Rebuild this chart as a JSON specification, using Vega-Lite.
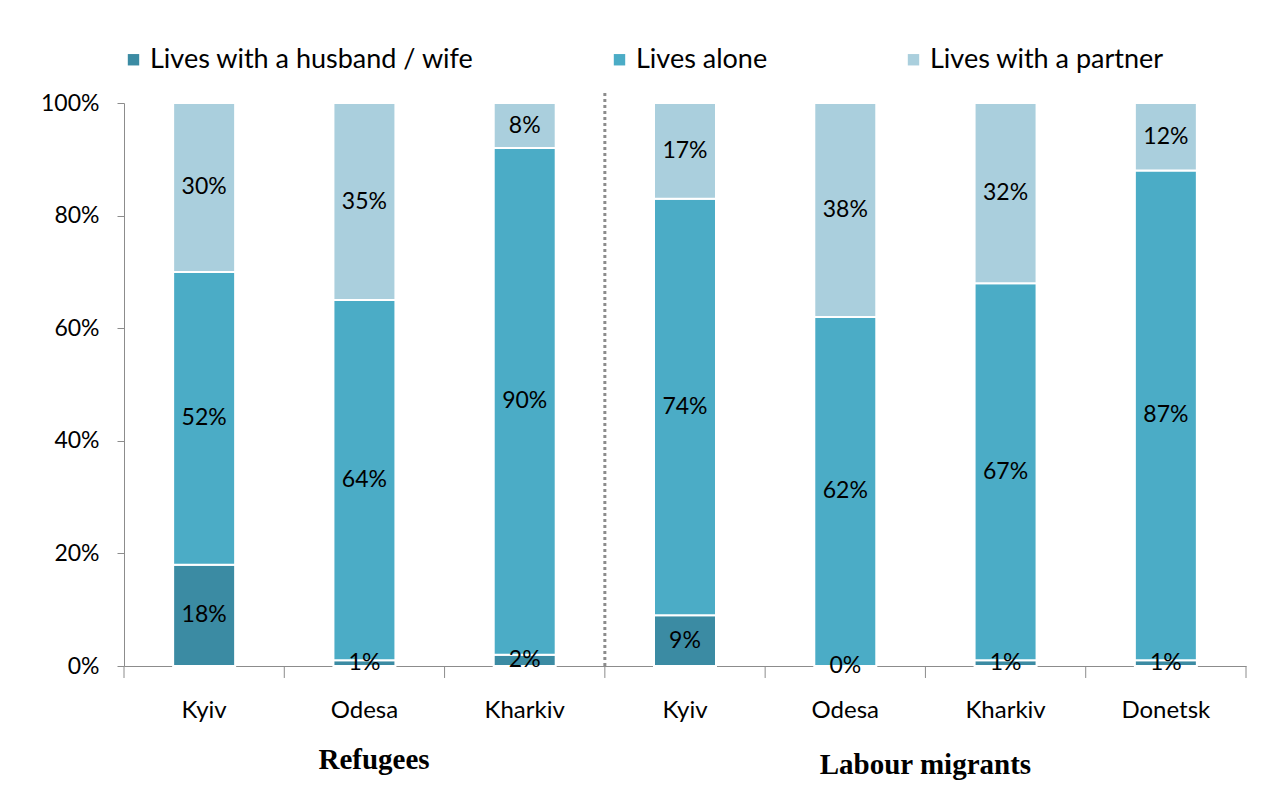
{
  "$schema": "https://vega.github.io/schema/vega-lite/v6.json",
  "width": 1122,
  "height": 563,
  "padding": {"left": 40, "top": 46, "right": 5, "bottom": 5},
  "config": {
    "view": {"stroke": null},
    "font": "Lato",
    "axis": {"labelFont": "Lato", "labelColor": "black", "domainColor": "#8c8c8c", "tickColor": "#8c8c8c", "grid": false, "title": null}
  },
  "data": {
    "values": [
      {"key": "R-Kyiv", "series": "Lives with a husband / wife", "ord": 1, "pct": 0.18},
      {"key": "R-Kyiv", "series": "Lives alone", "ord": 2, "pct": 0.52},
      {"key": "R-Kyiv", "series": "Lives with a partner", "ord": 3, "pct": 0.30},
      {"key": "R-Odesa", "series": "Lives with a husband / wife", "ord": 1, "pct": 0.01},
      {"key": "R-Odesa", "series": "Lives alone", "ord": 2, "pct": 0.64},
      {"key": "R-Odesa", "series": "Lives with a partner", "ord": 3, "pct": 0.35},
      {"key": "R-Kharkiv", "series": "Lives with a husband / wife", "ord": 1, "pct": 0.02},
      {"key": "R-Kharkiv", "series": "Lives alone", "ord": 2, "pct": 0.90},
      {"key": "R-Kharkiv", "series": "Lives with a partner", "ord": 3, "pct": 0.08},
      {"key": "L-Kyiv", "series": "Lives with a husband / wife", "ord": 1, "pct": 0.09},
      {"key": "L-Kyiv", "series": "Lives alone", "ord": 2, "pct": 0.74},
      {"key": "L-Kyiv", "series": "Lives with a partner", "ord": 3, "pct": 0.17},
      {"key": "L-Odesa", "series": "Lives with a husband / wife", "ord": 1, "pct": 0.0},
      {"key": "L-Odesa", "series": "Lives alone", "ord": 2, "pct": 0.62},
      {"key": "L-Odesa", "series": "Lives with a partner", "ord": 3, "pct": 0.38},
      {"key": "L-Kharkiv", "series": "Lives with a husband / wife", "ord": 1, "pct": 0.01},
      {"key": "L-Kharkiv", "series": "Lives alone", "ord": 2, "pct": 0.67},
      {"key": "L-Kharkiv", "series": "Lives with a partner", "ord": 3, "pct": 0.32},
      {"key": "L-Donetsk", "series": "Lives with a husband / wife", "ord": 1, "pct": 0.01},
      {"key": "L-Donetsk", "series": "Lives alone", "ord": 2, "pct": 0.87},
      {"key": "L-Donetsk", "series": "Lives with a partner", "ord": 3, "pct": 0.12}
    ]
  },
  "encoding": {
    "x": {
      "field": "key", "type": "nominal",
      "scale": {"domain": ["R-Kyiv", "R-Odesa", "R-Kharkiv", "L-Kyiv", "L-Odesa", "L-Kharkiv", "L-Donetsk"], "paddingInner": 0, "paddingOuter": 0},
      "axis": {"labelExpr": "slice(datum.value, 2)", "labelAngle": 0, "labelFontSize": 24, "ticks": false, "labelPadding": 32}
    }
  },
  "layer": [
    {
      "mark": {"type": "bar", "size": 62, "stroke": "white", "strokeWidth": 2},
      "encoding": {
        "y": {"field": "pct", "type": "quantitative", "stack": "zero",
          "scale": {"domain": [0, 1]},
          "axis": {"format": ".0%", "values": [0, 0.2, 0.4, 0.6, 0.8, 1], "labelFontSize": 23, "tickSize": 7, "labelPadding": 18}},
        "color": {"field": "series", "type": "nominal",
          "scale": {"domain": ["Lives with a husband / wife", "Lives alone", "Lives with a partner"], "range": ["#3B8BA3", "#4BACC6", "#AACFDD"]},
          "legend": {"orient": "none", "legendX": -4, "legendY": -57, "direction": "horizontal", "title": null, "symbolType": "square", "symbolSize": 130, "symbolStrokeWidth": 0, "labelFontSize": 27, "labelFont": "Lato", "labelColor": "black", "columnPadding": 132, "labelLimit": 600, "labelOffset": 3}},
        "order": {"field": "ord", "type": "quantitative"}
      }
    },
    {
      "mark": {"type": "text", "fontSize": 23, "color": "black", "baseline": "middle"},
      "encoding": {
        "y": {"field": "pct", "type": "quantitative", "stack": "zero", "bandPosition": 0.5},
        "text": {"field": "pct", "type": "quantitative", "format": ".0%"},
        "order": {"field": "ord", "type": "quantitative"}
      }
    },
    {
      "data": {"values": [{"key": "R-Kyiv"}, {"key": "R-Odesa"}, {"key": "R-Kharkiv"}, {"key": "L-Kyiv"}, {"key": "L-Odesa"}, {"key": "L-Kharkiv"}, {"key": "L-Donetsk"}]},
      "mark": {"type": "rule", "strokeWidth": 1, "color": "#8c8c8c"},
      "encoding": {
        "x": {"field": "key", "type": "nominal", "bandPosition": 0},
        "y": {"datum": 0},
        "y2": {"datum": -0.0213}
      }
    },
    {
      "data": {"values": [{"key": "L-Donetsk"}]},
      "mark": {"type": "rule", "strokeWidth": 1, "color": "#8c8c8c"},
      "encoding": {
        "x": {"field": "key", "type": "nominal", "bandPosition": 1},
        "y": {"datum": 0},
        "y2": {"datum": -0.0213}
      }
    },
    {
      "data": {"values": [{"key": "R-Kharkiv"}]},
      "mark": {"type": "rule", "strokeDash": [3, 3], "strokeWidth": 3, "color": "#8c8c8c"},
      "encoding": {
        "x": {"field": "key", "type": "nominal", "bandPosition": 1},
        "y": {"datum": 0},
        "y2": {"datum": 1.018}
      }
    },
    {
      "data": {"values": [{"key": "R-Odesa", "label": "Refugees"}]},
      "mark": {"type": "text", "font": "Liberation Serif", "fontWeight": "bold", "fontSize": 29, "color": "black", "baseline": "middle"},
      "encoding": {
        "x": {"field": "key", "type": "nominal", "bandPosition": 0.56},
        "y": {"datum": -0.167},
        "text": {"field": "label"}
      }
    },
    {
      "data": {"values": [{"key": "L-Odesa", "label": "Labour migrants"}]},
      "mark": {"type": "text", "font": "Liberation Serif", "fontWeight": "bold", "fontSize": 29, "color": "black", "baseline": "middle"},
      "encoding": {
        "x": {"field": "key", "type": "nominal", "bandPosition": 1},
        "y": {"datum": -0.176},
        "text": {"field": "label"}
      }
    }
  ]
}
